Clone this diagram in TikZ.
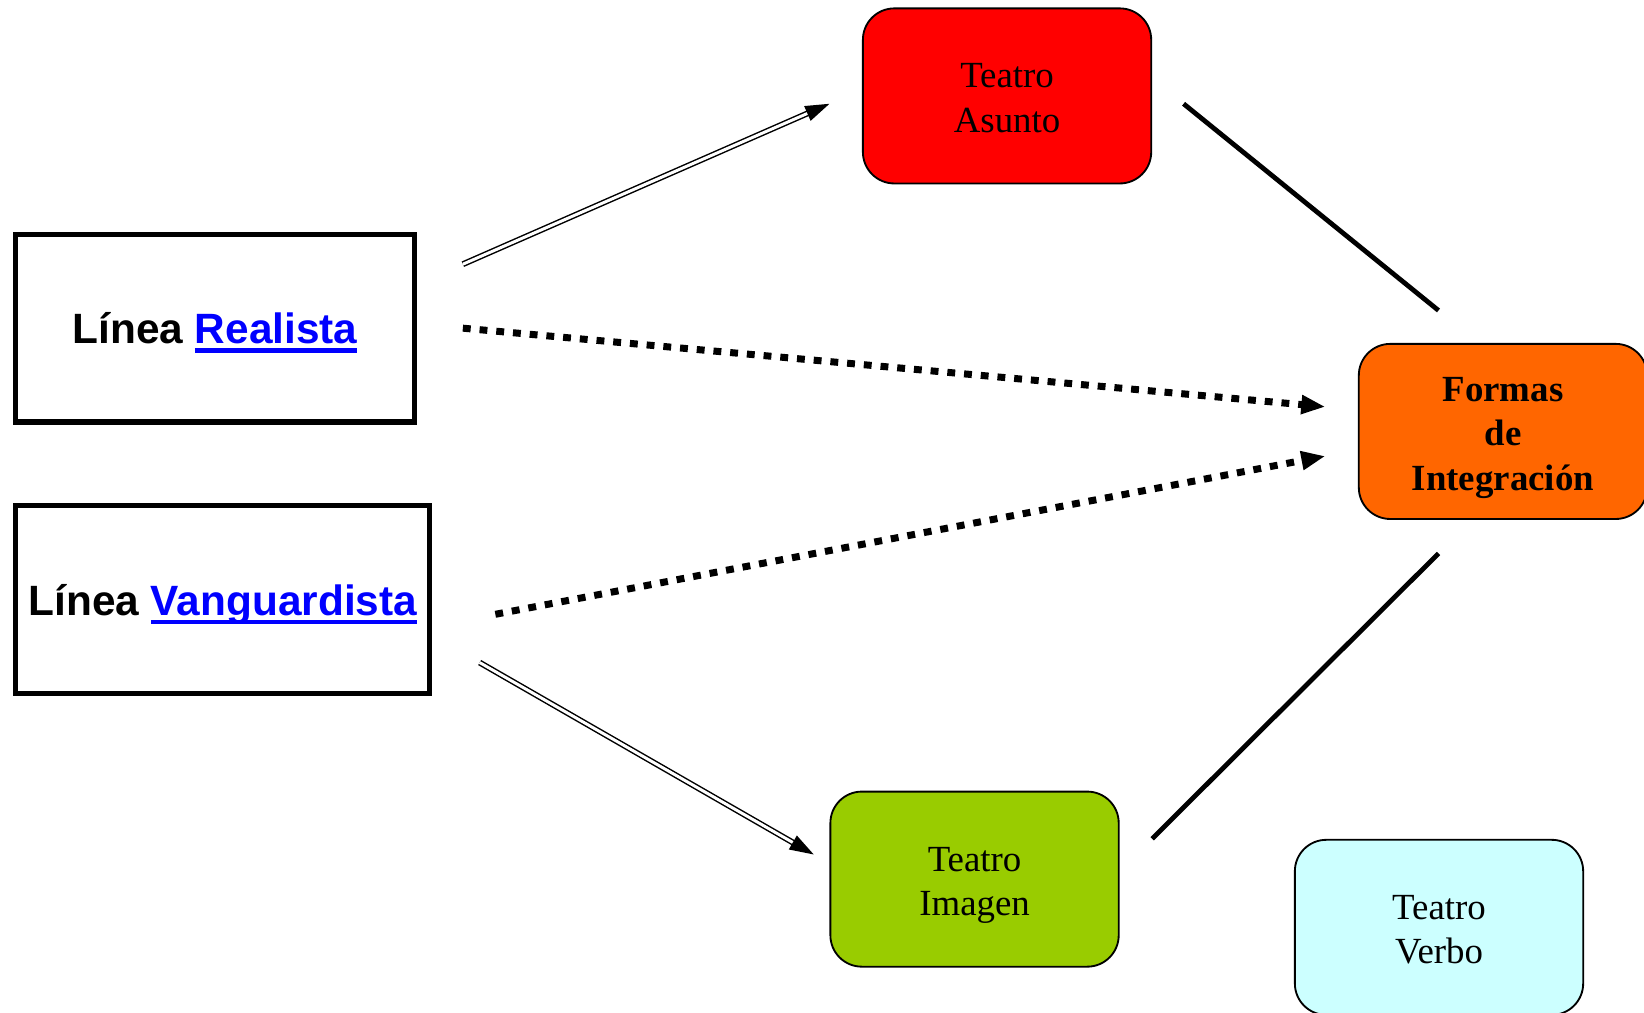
\documentclass[tikz,border=0pt]{standalone}
\usepackage{fontspec}
\setmainfont{Liberation Serif}
\setsansfont{Liberation Sans}
\usepackage{tikz}
\usetikzlibrary{positioning,arrows.meta}
\definecolor{rojo}{HTML}{FF0000}
\definecolor{naranja}{HTML}{FF6600}
\definecolor{verde}{HTML}{99CC00}
\definecolor{celeste}{HTML}{CCFFFF}
\definecolor{azulenlace}{HTML}{0000FF}
\newsavebox\linkbox
\newcommand{\vinculo}[1]{\sbox\linkbox{\color{azulenlace}#1}\textcolor{azulenlace}{\rlap{\rule[-2.4pt]{\wd\linkbox}{1.1pt}}\usebox\linkbox}}
\tikzset{
  linea/.style={draw, line width=1.4pt, minimum height=17.9mm, inner sep=0pt, text depth=0pt, font=\sffamily\bfseries\fontsize{11.5}{14}\selectfont},
  teatro/.style={draw, rounded corners=3mm, line width=0.5pt, minimum width=27.5mm, minimum height=16.7mm, inner sep=0pt, align=center,
                 text height=19.8pt, text depth=0pt, font=\fontsize{10}{12.1}\selectfont},
  doble/.style={double, double distance=0.8pt, line width=0.4pt, -{Triangle[length=2.3mm, width=1.5mm]}},
  punteado/.style={line width=1.9pt, dash pattern=on 0.75mm off 0.85mm, -{Triangle[length=2.3mm, width=1.7mm]}},
  une/.style={line width=1.3pt},
}
\begin{document}
\begin{tikzpicture}[x=0.1mm, y=0.1mm]
  \useasboundingbox (0,0) rectangle (1568,966);
  \node[linea, minimum width=38mm] (realista) at (205,653) {Línea \vinculo{Realista}};
  \node[linea, minimum width=39.5mm, below=7.5mm of realista.south west, anchor=north west] (vanguardia) {Línea \vinculo{Vanguardista}};

  \node[teatro, fill=rojo] (asunto) at (960.5,874.5) {Teatro\\Asunto};
  \node[teatro, fill=naranja, text height=32.1pt, font=\bfseries\fontsize{10}{12.1}\selectfont] (formas) at (1433.5,554.5) {Formas\\de\\Integración};
  \node[teatro, fill=verde] (imagen) at (929.5,127.5) {Teatro\\Imagen};
  \node[teatro, fill=celeste] (verbo) at (1372.5,81.5) {Teatro\\Verbo};

  \draw[doble] ([shift={(44,61)}]realista.east) -- ([shift={(-31,-7.5)}]asunto.west);
  \draw[punteado] ([xshift=4.4mm]realista.east) -- ([shift={(-31,23.5)}]formas.west);
  \draw[punteado] ([shift={(60,-14)}]vanguardia.east) -- ([shift={(-31,-23.5)}]formas.west);
  \draw[doble] ([shift={(45,-60)}]vanguardia.east) -- ([shift={(-15,23.5)}]imagen.west);
  \draw[une] ([shift={(30,-7.5)}]asunto.east) -- ([shift={(-61.5,31)}]formas.north);
  \draw[une] ([shift={(-61.5,-32)}]formas.south) -- ([shift={(31,38.5)}]imagen.east);
\end{tikzpicture}
\end{document}
